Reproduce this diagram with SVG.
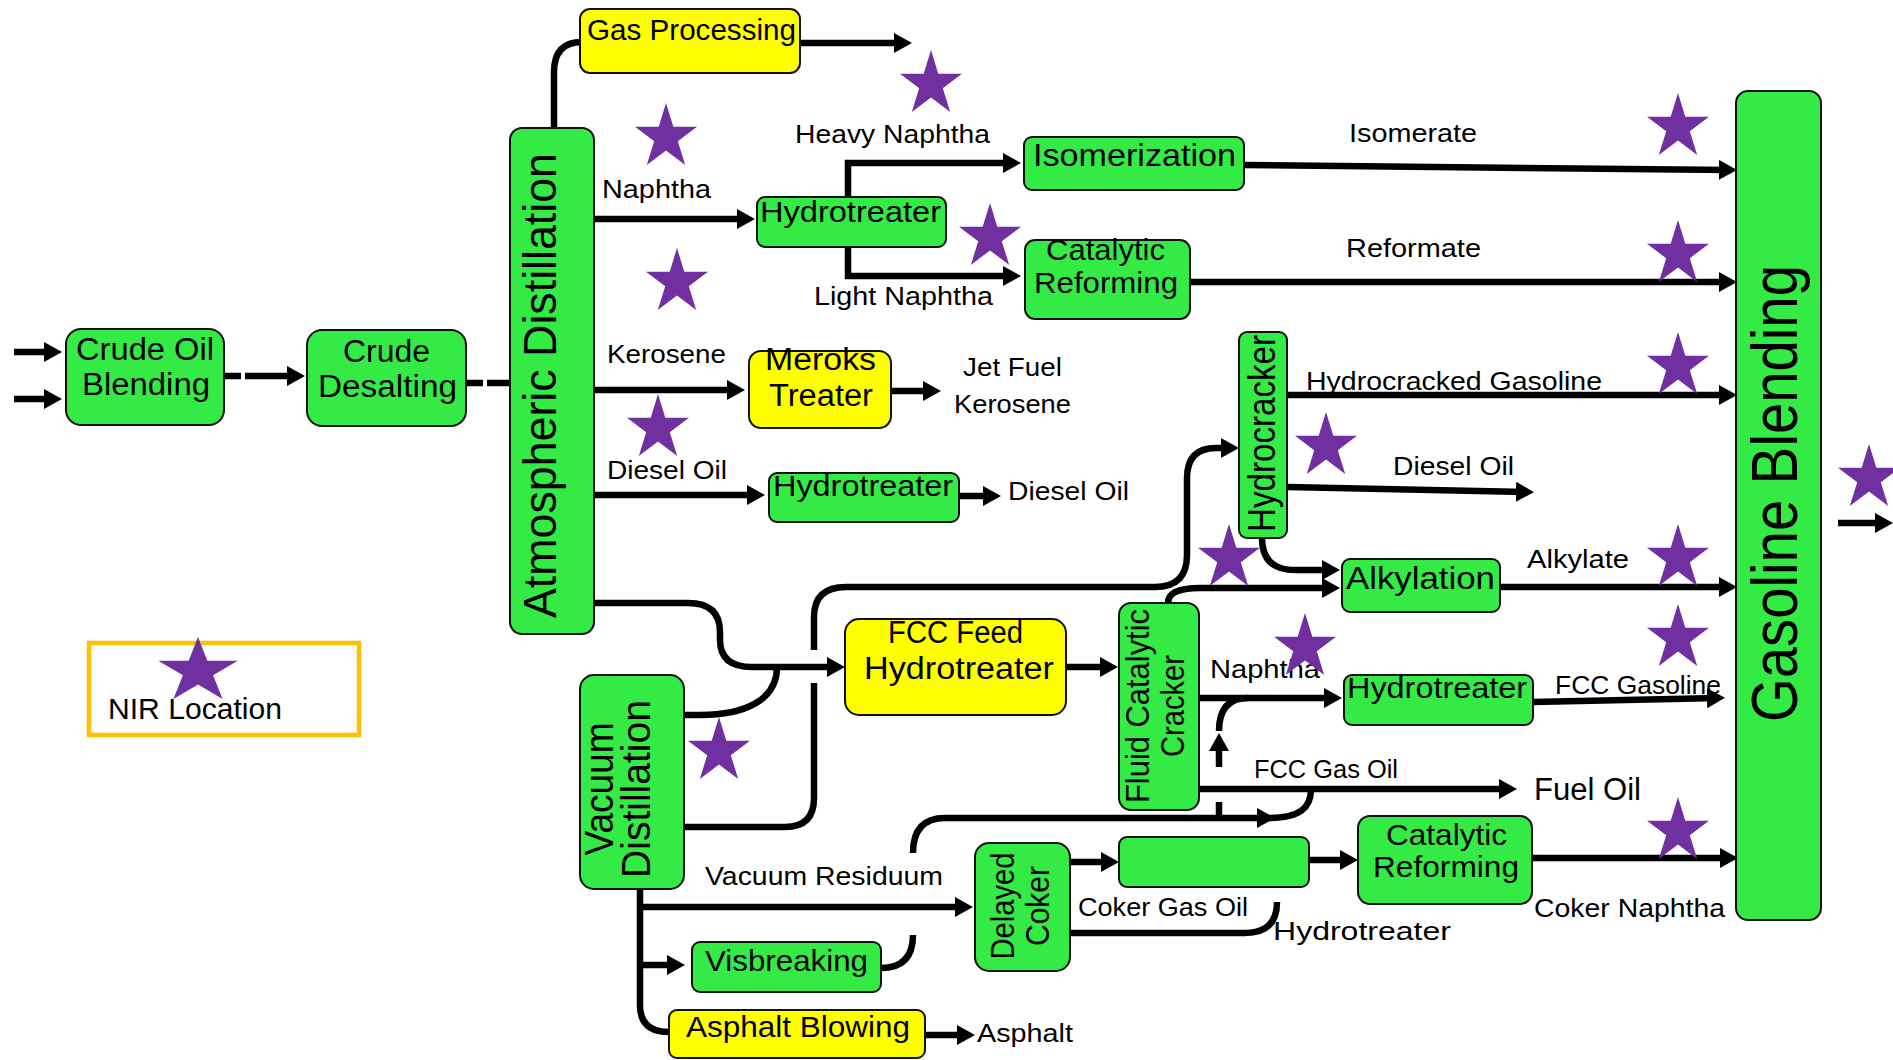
<svg xmlns="http://www.w3.org/2000/svg" width="1893" height="1060" viewBox="0 0 1893 1060">
<defs>
<marker id="ah" markerUnits="userSpaceOnUse" markerWidth="18" markerHeight="20" viewBox="0 0 18 20" refX="11" refY="10" orient="auto"><path d="M0,0 L18,10 L0,20 z" fill="#000"/></marker>
<path id="star" d="M0,0 L7.3,23.7 L31,23.7 L11.8,38.3 L19.2,62 L0,47.4 L-19.2,62 L-11.8,38.3 L-31,23.7 L-7.3,23.7 Z"/>
</defs>
<style>
.g{fill:#33EB44;stroke:#111;stroke-width:2}
.y{fill:#FFFF00;stroke:#111;stroke-width:2}
.c{fill:none;stroke:#000;stroke-width:6.5}
.a{marker-end:url(#ah)}
text{font-family:"Liberation Sans",Arial,sans-serif;fill:#000}
.bt{font-size:30px}
.lb{font-size:26px}
.st{fill:#7030A0}
</style>
<rect width="1893" height="1060" fill="#fff"/>

<g id="connectors">
<path class="c a" d="M14 352 H55"/>
<path class="c a" d="M14 399 H55"/>
<path class="c" d="M224 376 H241"/>
<path class="c a" d="M245 376 H298"/>
<path class="c" d="M466 383 H483"/>
<path class="c" d="M487 383 H510"/>
<path class="c" d="M554 128 V72 Q554 42 582 42"/>
<path class="c a" d="M800 43 H905"/>
<path class="c a" d="M595 219 H748"/>
<path class="c a" d="M848 197 V163 H1014"/>
<path class="c a" d="M848 247 V276 H1014"/>
<path class="c a" d="M1244 165 L1730 170"/>
<path class="c a" d="M1190 282 H1730"/>
<path class="c a" d="M595 390 H738"/>
<path class="c a" d="M891 391 H934"/>
<path class="c a" d="M595 495 H758"/>
<path class="c a" d="M959 496 H994"/>
<path class="c a" d="M594 603 H688 Q720 603 720 632 V640 Q720 667 752 667 H838"/>
<path class="c" d="M685 715 H700 C745 715 777 700 777 667"/>
<path class="c" d="M685 827 H785 Q814 827 814 798 V683"/>
<path class="c a" d="M814 650 V617 Q814 587 846 587 H1155 Q1187 587 1187 555 V478 Q1187 448 1216 448 H1232"/>
<path class="c a" d="M1066 667 H1111"/>
<path class="c a" d="M1287 395 H1730"/>
<path class="c a" d="M1287 487 L1527 492"/>
<path class="c a" d="M1262 538 Q1262 570 1295 570 H1333"/>
<path class="c a" d="M1168 603 Q1168 588 1200 588 H1333"/>
<path class="c a" d="M1500 587 H1730"/>
<path class="c a" d="M1199 698 H1335"/>
<path class="c a" d="M1533 702 L1718 698"/>
<path class="c a" d="M1219 767 V740"/>
<path class="c" d="M1219 731 Q1219 698 1248 698"/>
<path class="c" d="M1219 818 V802"/>
<path class="c a" d="M1199 789 H1510"/>
<path class="c" d="M881 968 Q913 968 913 935"/>
<path class="c a" d="M913 853 Q913 818 945 818 H1268"/>
<path class="c" d="M1268 818 C1300 818 1311 808 1311 789"/>
<path class="c" d="M640 889 V1005 Q640 1032 669 1032"/>
<path class="c a" d="M640 907 H966"/>
<path class="c a" d="M640 965 H678"/>
<path class="c a" d="M925 1035 H968"/>
<path class="c a" d="M1070 862 H1112"/>
<path class="c a" d="M1309 860 H1351"/>
<path class="c a" d="M1532 858 H1731"/>
<path class="c" d="M1070 933 H1245 Q1277 933 1277 902"/>
<path class="c a" d="M1838 523 H1886"/>
</g>

<g id="crude-oil-blending"><rect class="g" x="66" y="329" width="158" height="96" rx="15"/>
<text style="font-size:31px" x="76" y="360" textLength="138" lengthAdjust="spacingAndGlyphs">Crude Oil</text>
<text style="font-size:31px" x="82" y="395" textLength="128" lengthAdjust="spacingAndGlyphs">Blending</text></g>

<g id="crude-desalting"><rect class="g" x="307" y="330" width="159" height="96" rx="15"/>
<text style="font-size:31px" x="343" y="362" textLength="87" lengthAdjust="spacingAndGlyphs">Crude</text>
<text style="font-size:31px" x="318" y="397" textLength="139" lengthAdjust="spacingAndGlyphs">Desalting</text></g>

<g id="atmospheric-distillation"><rect class="g" x="510" y="128" width="84" height="506" rx="12"/>
<text transform="translate(556,618) rotate(-90)" style="font-size:46px" textLength="465" lengthAdjust="spacingAndGlyphs">Atmospheric Distillation</text></g>

<g id="gas-processing"><rect class="y" x="580" y="9" width="220" height="64" rx="10"/>
<text class="bt" x="587" y="40" textLength="209" lengthAdjust="spacingAndGlyphs">Gas Processing</text></g>

<g id="hydrotreater-naphtha"><rect class="g" x="757" y="197" width="189" height="50" rx="8"/>
<text class="bt" x="760" y="222" textLength="181" lengthAdjust="spacingAndGlyphs">Hydrotreater</text></g>

<g id="isomerization"><rect class="g" x="1024" y="137" width="220" height="53" rx="8"/>
<text style="font-size:32px" x="1033" y="166" textLength="203" lengthAdjust="spacingAndGlyphs">Isomerization</text></g>

<g id="catalytic-reforming-1"><rect class="g" x="1025" y="240" width="165" height="79" rx="10"/>
<text style="font-size:29px" x="1046" y="260" textLength="119" lengthAdjust="spacingAndGlyphs">Catalytic</text>
<text style="font-size:29px" x="1034" y="293" textLength="144" lengthAdjust="spacingAndGlyphs">Reforming</text></g>

<g id="meroks-treater"><rect class="y" x="749" y="351" width="142" height="77" rx="12"/>
<text style="font-size:31px" x="765" y="370" textLength="111" lengthAdjust="spacingAndGlyphs">Meroks</text>
<text style="font-size:31px" x="769" y="406" textLength="104" lengthAdjust="spacingAndGlyphs">Treater</text></g>

<g id="hydrotreater-diesel"><rect class="g" x="769" y="473" width="190" height="49" rx="8"/>
<text class="bt" x="773" y="496" textLength="180" lengthAdjust="spacingAndGlyphs">Hydrotreater</text></g>

<g id="hydrocracker"><rect class="g" x="1239" y="332" width="48" height="206" rx="8"/>
<text transform="translate(1275,532) rotate(-90)" style="font-size:39px" textLength="197" lengthAdjust="spacingAndGlyphs">Hydrocracker</text></g>

<g id="alkylation"><rect class="g" x="1342" y="559" width="158" height="53" rx="8"/>
<text style="font-size:31px" x="1346" y="589" textLength="149" lengthAdjust="spacingAndGlyphs">Alkylation</text></g>

<g id="fcc-feed-hydrotreater"><rect class="y" x="845" y="619" width="221" height="96" rx="14"/>
<text style="font-size:31px" x="888" y="643" textLength="135" lengthAdjust="spacingAndGlyphs">FCC Feed</text>
<text style="font-size:31px" x="864" y="679" textLength="190" lengthAdjust="spacingAndGlyphs">Hydrotreater</text></g>

<g id="fluid-catalytic-cracker"><rect class="g" x="1119" y="603" width="80" height="207" rx="12"/>
<text transform="translate(1149,706) rotate(-90)" text-anchor="middle" style="font-size:33px" textLength="194" lengthAdjust="spacingAndGlyphs">Fluid Catalytic</text>
<text transform="translate(1184,706) rotate(-90)" text-anchor="middle" style="font-size:33px" textLength="102" lengthAdjust="spacingAndGlyphs">Cracker</text></g>

<g id="hydrotreater-fcc"><rect class="g" x="1344" y="675" width="189" height="50" rx="8"/>
<text class="bt" x="1347" y="698" textLength="180" lengthAdjust="spacingAndGlyphs">Hydrotreater</text></g>

<g id="vacuum-distillation"><rect class="g" x="580" y="675" width="104" height="214" rx="14"/>
<text transform="translate(613,789) rotate(-90)" text-anchor="middle" style="font-size:40px" textLength="133" lengthAdjust="spacingAndGlyphs">Vacuum</text>
<text transform="translate(650,789) rotate(-90)" text-anchor="middle" style="font-size:40px" textLength="178" lengthAdjust="spacingAndGlyphs">Distillation</text></g>

<g id="delayed-coker"><rect class="g" x="975" y="843" width="95" height="128" rx="14"/>
<text transform="translate(1014,906) rotate(-90)" text-anchor="middle" style="font-size:33px" textLength="107" lengthAdjust="spacingAndGlyphs">Delayed</text>
<text transform="translate(1049,906) rotate(-90)" text-anchor="middle" style="font-size:33px" textLength="80" lengthAdjust="spacingAndGlyphs">Coker</text></g>

<g id="coker-gas-oil-hydrotreater"><rect class="g" x="1119" y="837" width="190" height="50" rx="8"/></g>

<g id="catalytic-reforming-2"><rect class="g" x="1358" y="816" width="174" height="88" rx="12"/>
<text class="bt" x="1386" y="845" textLength="121" lengthAdjust="spacingAndGlyphs">Catalytic</text>
<text class="bt" x="1373" y="877" textLength="146" lengthAdjust="spacingAndGlyphs">Reforming</text></g>

<g id="visbreaking"><rect class="g" x="692" y="942" width="189" height="50" rx="8"/>
<text class="bt" x="705" y="971" textLength="163" lengthAdjust="spacingAndGlyphs">Visbreaking</text></g>

<g id="asphalt-blowing"><rect class="y" x="669" y="1010" width="256" height="48" rx="8"/>
<text class="bt" x="686" y="1037" textLength="224" lengthAdjust="spacingAndGlyphs">Asphalt Blowing</text></g>

<g id="gasoline-blending"><rect class="g" x="1736" y="91" width="85" height="829" rx="12"/>
<text transform="translate(1797,722) rotate(-90)" style="font-size:64px" textLength="457" lengthAdjust="spacingAndGlyphs">Gasoline Blending</text></g>

<g id="labels" class="lb">
<text x="795" y="143" textLength="195" lengthAdjust="spacingAndGlyphs">Heavy Naphtha</text>
<text x="602" y="198" textLength="109" lengthAdjust="spacingAndGlyphs">Naphtha</text>
<text x="814" y="305" textLength="179" lengthAdjust="spacingAndGlyphs">Light Naphtha</text>
<text x="1349" y="142" textLength="128" lengthAdjust="spacingAndGlyphs">Isomerate</text>
<text x="1346" y="257" textLength="135" lengthAdjust="spacingAndGlyphs">Reformate</text>
<text x="607" y="363" textLength="119" lengthAdjust="spacingAndGlyphs">Kerosene</text>
<text x="963" y="376" textLength="99" lengthAdjust="spacingAndGlyphs">Jet Fuel</text>
<text x="954" y="413" textLength="117" lengthAdjust="spacingAndGlyphs">Kerosene</text>
<text x="607" y="479" textLength="120" lengthAdjust="spacingAndGlyphs">Diesel Oil</text>
<text x="1008" y="500" textLength="121" lengthAdjust="spacingAndGlyphs">Diesel Oil</text>
<text x="1306" y="390" textLength="296" lengthAdjust="spacingAndGlyphs">Hydrocracked Gasoline</text>
<text x="1393" y="475" textLength="121" lengthAdjust="spacingAndGlyphs">Diesel Oil</text>
<text x="1527" y="568" textLength="102" lengthAdjust="spacingAndGlyphs">Alkylate</text>
<text x="1210" y="678" textLength="110" lengthAdjust="spacingAndGlyphs">Naphtha</text>
<text x="1555" y="694" textLength="166" lengthAdjust="spacingAndGlyphs">FCC Gasoline</text>
<text x="1254" y="778" textLength="144" lengthAdjust="spacingAndGlyphs">FCC Gas Oil</text>
<text x="1534" y="800" style="font-size:31px" textLength="107" lengthAdjust="spacingAndGlyphs">Fuel Oil</text>
<text x="705" y="885" textLength="238" lengthAdjust="spacingAndGlyphs">Vacuum Residuum</text>
<text x="1078" y="916" textLength="170" lengthAdjust="spacingAndGlyphs">Coker Gas Oil</text>
<text x="1273" y="940" textLength="178" lengthAdjust="spacingAndGlyphs">Hydrotreater</text>
<text x="1534" y="917" textLength="191" lengthAdjust="spacingAndGlyphs">Coker Naphtha</text>
<text x="977" y="1042" textLength="96" lengthAdjust="spacingAndGlyphs">Asphalt</text>
</g>

<g id="legend">
<rect x="89" y="643" width="270" height="92" fill="none" stroke="#FFC000" stroke-width="4.5"/>
<text x="108" y="719" style="font-size:29px" textLength="174" lengthAdjust="spacingAndGlyphs">NIR Location</text>
<use href="#star" class="st" transform="translate(198,637) scale(1.28,1)"/>
</g>

<g id="nir-stars" class="st">
<use href="#star" x="931" y="50"/>
<use href="#star" x="666" y="103"/>
<use href="#star" x="677" y="248"/>
<use href="#star" x="990" y="203"/>
<use href="#star" x="658" y="394"/>
<use href="#star" x="1678" y="93"/>
<use href="#star" x="1678" y="220"/>
<use href="#star" x="1678" y="332"/>
<use href="#star" x="1326" y="412"/>
<use href="#star" x="1229" y="524"/>
<use href="#star" x="1678" y="524"/>
<use href="#star" x="1305" y="613"/>
<use href="#star" x="1678" y="604"/>
<use href="#star" x="719" y="717"/>
<use href="#star" x="1678" y="797"/>
<use href="#star" x="1869" y="444"/>
</g>
</svg>
